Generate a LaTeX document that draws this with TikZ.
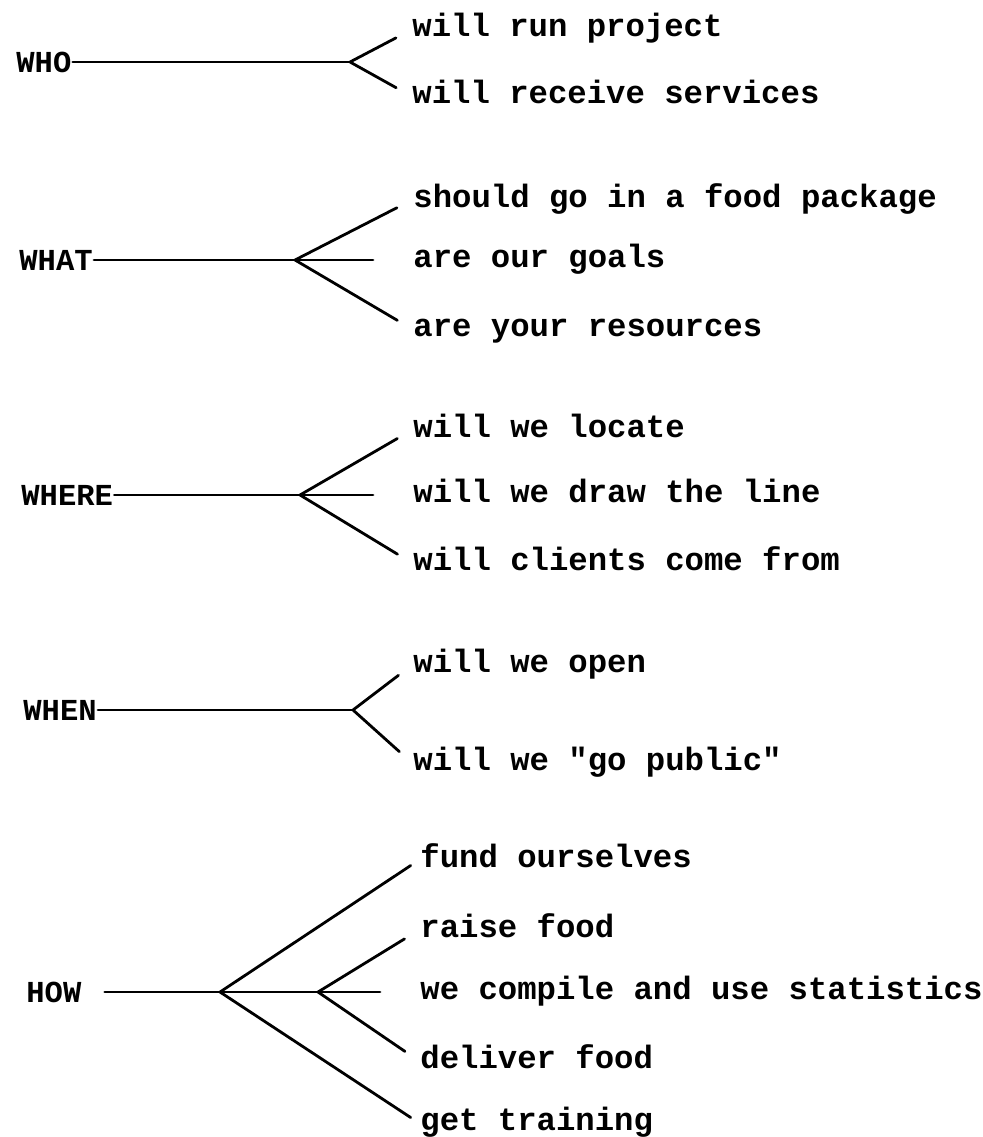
\documentclass[tikz,border=0pt]{standalone}
\usepackage{fontspec}
\newfontfamily\typer{Liberation Mono}
\usepackage{tikz}

\begin{document}
\begin{tikzpicture}[line width=2.8pt, line cap=round, x=10pt, y=-10pt,
    topic/.style={anchor=west, inner sep=0pt, font=\typer\bfseries\fontsize{30.5}{32}\selectfont},
    word/.style={anchor=west, inner sep=0pt, text height=20pt, text depth=6pt, font=\typer\bfseries\fontsize{32.3}{36}\selectfont},
    twig/.style={shorten >=17pt},
    stem/.style={shorten >=39pt}]
\useasboundingbox (0,0) rectangle (98.2,113.7);

% WHO
\node [topic] (who) at (1.5,6.2) {WHO};
\coordinate (whofork) at (35.0,6.2);
\node [word] (who1) at (41.1,3.0) {will run project};
\node [word] (who2) at (41.1,9.6) {will receive services};
\draw (who.east) -- (whofork);
\draw [twig] (whofork) -- (who1.west);
\draw [twig] (whofork) -- (who2.west);

% WHAT
\node [topic] (what) at (1.8,26.0) {WHAT};
\coordinate (whatfork) at (29.5,26.0);
\node [word] (what1) at (41.2,20.0) {should go in a food package};
\node [word] (what2) at (41.2,26.0) {are our goals};
\node [word] (what3) at (41.2,32.9) {are your resources};
\draw (what.east) -- (whatfork);
\draw [twig] (whatfork) -- (what1.west);
\draw [stem] (whatfork) -- (what2.west);
\draw [twig] (whatfork) -- (what3.west);

% WHERE
\node [topic] (where) at (2.0,49.5) {WHERE};
\coordinate (wherefork) at (30.0,49.5);
\node [word] (where1) at (41.2,43.0) {will we locate};
\node [word] (where2) at (41.2,49.5) {will we draw the line};
\node [word] (where3) at (41.2,56.3) {will clients come from};
\draw (where.east) -- (wherefork);
\draw [twig] (wherefork) -- (where1.west);
\draw [stem] (wherefork) -- (where2.west);
\draw [twig] (wherefork) -- (where3.west);

% WHEN
\node [topic] (when) at (2.2,71.0) {WHEN};
\coordinate (whenfork) at (35.3,71.0);
\node [word] (when1) at (41.2,66.5) {will we open};
\node [word] (when2) at (41.2,76.3) {will we "go public"};
\draw (when.east) -- (whenfork);
\draw [twig] (whenfork) -- (when1.west);
\draw [twig] (whenfork) -- (when2.west);

% HOW
\node [topic] (how) at (2.5,99.2) {HOW};
\coordinate (howfork) at (22.0,99.2);
\coordinate (howfork2) at (31.8,99.2);
\node [word] (how1) at (41.9,86.0) {fund ourselves};
\node [word] (how2) at (41.9,93.0) {raise food};
\node [word] (how3) at (41.9,99.2) {we compile and use statistics};
\node [word] (how4) at (41.9,106.1) {deliver food};
\node [word] (how5) at (41.9,112.3) {get training};
\draw [shorten <=22pt] (how.east) -- (howfork) -- (howfork2);
\draw [shorten >=10pt] (howfork) -- (how1.west);
\draw [shorten >=10pt] (howfork) -- (how5.west);
\draw [twig] (howfork2) -- (how2.west);
\draw [stem] (howfork2) -- (how3.west);
\draw [twig] (howfork2) -- (how4.west);
\end{tikzpicture}
\end{document}
